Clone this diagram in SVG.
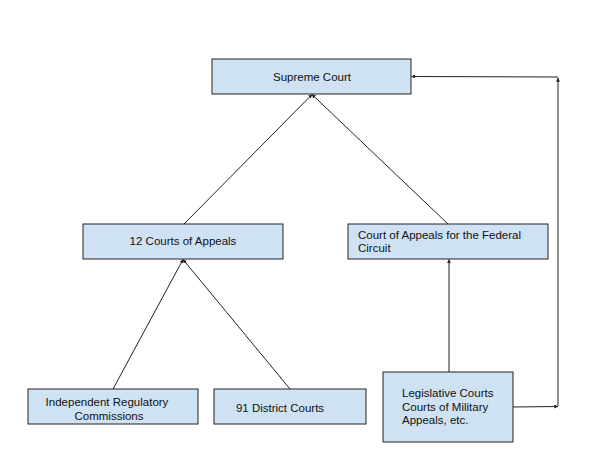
<svg xmlns="http://www.w3.org/2000/svg" width="610" height="455" viewBox="0 0 610 455">
<style>
.box{fill:#cfe2f3;stroke:#222;stroke-width:1}
.t{font-family:"Liberation Sans",Arial,sans-serif;font-size:11.5px;fill:#111}
.c{text-anchor:middle}
.ln{stroke:#222;stroke-width:1;fill:none;marker-end:url(#ah)}
</style>
<defs>
<marker id="ah" viewBox="0 0 6 6" refX="5.5" refY="3" markerWidth="4" markerHeight="4" orient="auto" markerUnits="userSpaceOnUse">
<path d="M0,0 L6,3 L0,6 z" fill="#222"/>
</marker>
</defs>
<rect width="610" height="455" fill="#fff"/>
<g id="connectors">
<line class="ln" x1="184" y1="224" x2="312" y2="94.5"/>
<line class="ln" x1="448" y1="224" x2="312" y2="94.5"/>
<line class="ln" x1="113" y1="389" x2="183" y2="259.5"/>
<line class="ln" x1="290" y1="389" x2="183" y2="259.5"/>
<line class="ln" x1="449" y1="372" x2="449" y2="259.5"/>
<line class="ln" x1="513" y1="407" x2="558" y2="406.5"/>
<line class="ln" x1="558" y1="406" x2="558" y2="78"/>
<line class="ln" x1="558" y1="77" x2="411.5" y2="76.5"/>
</g>
<g id="supreme">
<rect class="box" x="212" y="59" width="199" height="35"/>
<text class="t c" x="312" y="81">Supreme Court</text>
</g>
<g id="appeals12">
<rect class="box" x="83" y="224" width="200" height="35"/>
<text class="t c" x="183" y="245">12 Courts of Appeals</text>
</g>
<g id="federal">
<rect class="box" x="348" y="224" width="200" height="35"/>
<text class="t" x="358" y="239">Court of Appeals for the Federal</text>
<text class="t" x="358" y="252">Circuit</text>
</g>
<g id="independent">
<rect class="box" x="28" y="389" width="170" height="35"/>
<text class="t c" x="107" y="406">Independent Regulatory</text>
<text class="t c" x="109" y="420">Commissions</text>
</g>
<g id="district">
<rect class="box" x="214" y="389" width="152" height="35"/>
<text class="t c" x="280" y="412">91 District Courts</text>
</g>
<g id="legislative">
<rect class="box" x="383" y="372" width="130" height="70"/>
<text class="t" x="402" y="397">Legislative Courts</text>
<text class="t" x="402" y="411">Courts of Military</text>
<text class="t" x="402" y="424">Appeals, etc.</text>
</g>
</svg>
